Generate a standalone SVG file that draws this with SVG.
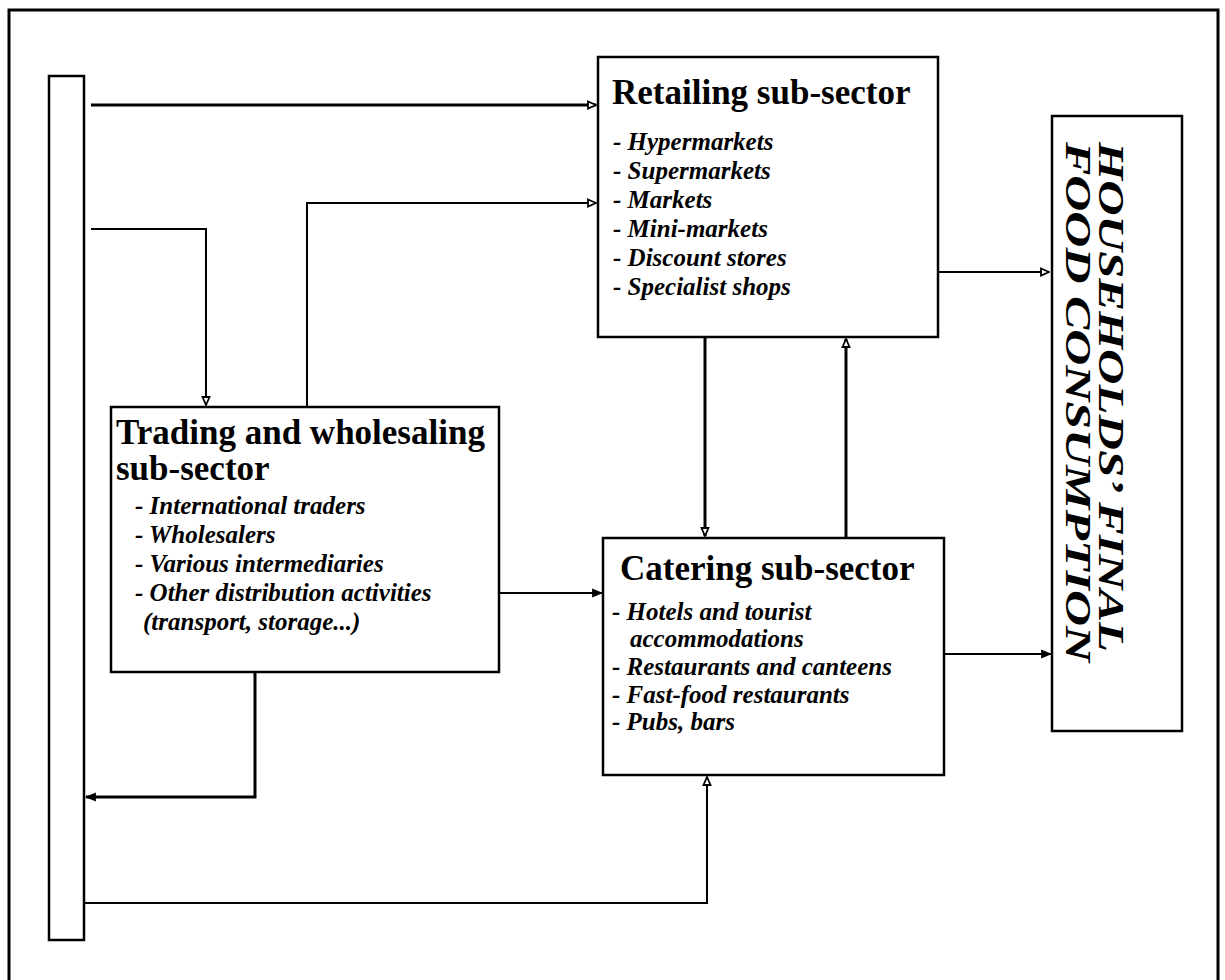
<svg xmlns="http://www.w3.org/2000/svg" width="1225" height="980" viewBox="0 0 1225 980">
<style>
.box{fill:#fff;stroke:#000;stroke-width:2.5}
.ln{fill:none;stroke:#000;stroke-width:2}
.thick{fill:none;stroke:#000;stroke-width:3}
.title{font-family:"Liberation Serif",serif;font-weight:bold;font-size:35px;fill:#000}
.item{font-family:"Liberation Serif",serif;font-weight:bold;font-style:italic;font-size:25px;fill:#000}
.hh{font-family:"Liberation Serif",serif;font-weight:bold;font-style:italic;font-size:35px;fill:#000}
</style>
<defs>
<marker id="open" viewBox="0 0 10 10" refX="9" refY="5" markerWidth="10" markerHeight="10" markerUnits="userSpaceOnUse" orient="auto">
<path d="M1,1.5 L9,5 L1,8.5 Z" fill="#fff" stroke="#000" stroke-width="1.8"/>
</marker>
<marker id="fill" viewBox="0 0 10 10" refX="9" refY="5" markerWidth="11" markerHeight="11" markerUnits="userSpaceOnUse" orient="auto">
<path d="M0,1 L10,5 L0,9 Z" fill="#000"/>
</marker>
</defs>
<rect width="1225" height="980" fill="#fff"/>
<path d="M9,985 V10 H1218 V985" fill="none" stroke="#000" stroke-width="3"/>

<g id="bar"><rect class="box" x="49" y="76" width="35" height="864"/></g>

<g id="connectors">
<path class="thick" d="M91,105 H596" marker-end="url(#open)"/>
<path class="ln" d="M91,229 H206 V405" marker-end="url(#open)"/>
<path class="ln" d="M307,407 V203 H596" marker-end="url(#open)"/>
<path class="ln" d="M938,272 H1049" marker-end="url(#open)"/>
<path class="thick" d="M705,337 V536" marker-end="url(#open)"/>
<path class="thick" d="M846,538 V339" marker-end="url(#open)"/>
<path class="ln" d="M499,593 H602" marker-end="url(#fill)"/>
<path class="ln" d="M944,654 H1051" marker-end="url(#fill)"/>
<path class="thick" d="M255,672 V797 H86" marker-end="url(#fill)"/>
<path class="ln" d="M84,903 H707 V777" marker-end="url(#open)"/>
</g>

<g id="retailing">
<rect class="box" x="598" y="57" width="340" height="280"/>
<text class="title" x="612" y="104">Retailing sub-sector</text>
<text class="item" x="613" y="150">- Hypermarkets</text>
<text class="item" x="613" y="179">- Supermarkets</text>
<text class="item" x="613" y="208">- Markets</text>
<text class="item" x="613" y="237">- Mini-markets</text>
<text class="item" x="613" y="266">- Discount stores</text>
<text class="item" x="613" y="295">- Specialist shops</text>
</g>

<g id="trading">
<rect class="box" x="111" y="407" width="388" height="265"/>
<text class="title" x="116" y="444">Trading and wholesaling</text>
<text class="title" x="116" y="480">sub-sector</text>
<text class="item" x="135" y="514">- International traders</text>
<text class="item" x="135" y="543">- Wholesalers</text>
<text class="item" x="135" y="572">- Various intermediaries</text>
<text class="item" x="135" y="601">- Other distribution activities</text>
<text class="item" x="143" y="630">(transport, storage...)</text>
</g>

<g id="catering">
<rect class="box" x="603" y="538" width="341" height="237"/>
<text class="title" x="620" y="580">Catering sub-sector</text>
<text class="item" x="612" y="620">- Hotels and tourist</text>
<text class="item" x="630" y="647">accommodations</text>
<text class="item" x="612" y="675">- Restaurants and canteens</text>
<text class="item" x="612" y="703">- Fast-food restaurants</text>
<text class="item" x="612" y="730">- Pubs, bars</text>
</g>

<g id="households">
<rect class="box" x="1052" y="116" width="130" height="615"/>
<g transform="translate(1099,142) rotate(90)">
<text class="hh" x="0" y="0" textLength="510" lengthAdjust="spacingAndGlyphs">HOUSEHOLDS’ FINAL</text>
<text class="hh" x="0" y="33" textLength="520" lengthAdjust="spacingAndGlyphs">FOOD CONSUMPTION</text>
</g>
</g>
</svg>
